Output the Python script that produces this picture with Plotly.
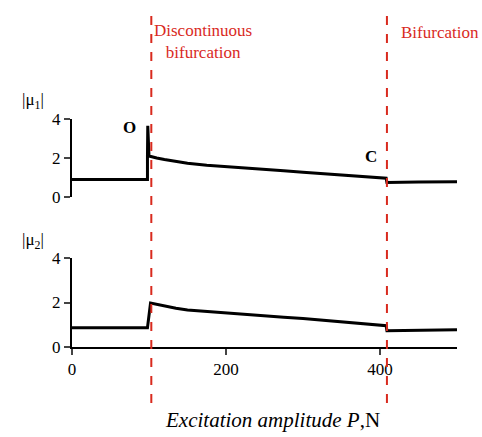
import plotly.graph_objects as go
from plotly.subplots import make_subplots

# Data
P1 = [0, 98, 98, 98.4, 100, 103, 110, 120, 135, 150, 175, 200, 225, 250, 275, 300, 325, 350, 375, 400, 408, 409, 420, 450, 500]
mu1 = [0.9, 0.9, 2.05, 3.65, 2.1, 2.08, 2.0, 1.92, 1.82, 1.73, 1.63, 1.55, 1.48, 1.41, 1.34, 1.27, 1.2, 1.13, 1.06, 0.99, 0.96, 0.74, 0.74, 0.77, 0.78]
P2 = [0, 98, 102, 110, 120, 135, 150, 175, 200, 225, 250, 275, 300, 325, 350, 375, 400, 408, 409, 420, 450, 500]
mu2 = [0.87, 0.87, 1.98, 1.92, 1.84, 1.74, 1.66, 1.59, 1.52, 1.46, 1.4, 1.34, 1.28, 1.21, 1.14, 1.07, 1.0, 0.96, 0.73, 0.74, 0.76, 0.78]
bif_lines = [103, 409]
x_ticks = [0, 200, 400]
y_ticks = [0, 2, 4]

W, H = 482, 437
L, R, T, B = 72, 25, 119, 90
plot_h = H - T - B
plot_w = W - L - R

def py(y):
    return (H - B - y) / plot_h

def px(x):
    return (x - L) / plot_w

fig = make_subplots(rows=2, cols=1, shared_xaxes=False)
fig.add_trace(go.Scatter(x=P1, y=mu1, mode="lines", line=dict(color="black", width=3)), row=1, col=1)
fig.add_trace(go.Scatter(x=P2, y=mu2, mode="lines", line=dict(color="black", width=3)), row=2, col=1)

font = "Liberation Serif"
red = "#d92a1e"

axis_common = dict(showline=True, linecolor="black", linewidth=2, ticks="outside", ticklen=6,
                   tickwidth=2, showgrid=False, zeroline=False,
                   tickfont=dict(family=font, size=17, color="black"))

fig.update_layout(
    width=W, height=H,
    margin=dict(l=L, r=R, t=T, b=B),
    paper_bgcolor="white", plot_bgcolor="white",
    showlegend=False,
    font=dict(family=font, size=16, color="black"),
    xaxis=dict(domain=[0, 1], range=[0, 500], visible=False, anchor="y"),
    yaxis=dict(domain=[py(197), 1], range=[0, 4], tickvals=y_ticks, anchor="x", **axis_common),
    xaxis2=dict(domain=[0, 1], range=[0, 500], tickvals=x_ticks, anchor="y2", **axis_common),
    yaxis2=dict(domain=[0, py(258)], range=[0, 4], tickvals=y_ticks, anchor="x2", **axis_common),
)

for xv in bif_lines:
    fig.add_shape(type="line", xref="x2", yref="paper", x0=xv, x1=xv, y0=py(403), y1=py(10),
                  line=dict(color=red, width=2, dash="dash"))

ann = [
    dict(text="|μ<sub>1</sub>|", x=px(33), y=py(101), size=17, color="black"),
    dict(text="|μ<sub>2</sub>|", x=px(33), y=py(241), size=17, color="black"),
    dict(text="<b>O</b>", x=px(129), y=py(127), size=17, color="black"),
    dict(text="<b>C</b>", x=px(371), y=py(156), size=17, color="black"),
    dict(text="Discontinuous<br>bifurcation", x=px(203), y=py(42), size=17, color=red),
    dict(text="Bifurcation", x=px(440), y=py(33), size=17, color=red),
    dict(text="<i>Excitation amplitude P</i>,N", x=px(272), y=py(420), size=21, color="black"),
]
for a in ann:
    fig.add_annotation(text=a["text"], x=a["x"], y=a["y"], xref="paper", yref="paper",
                       showarrow=False, xanchor="center", yanchor="middle",
                       font=dict(family=font, size=a["size"], color=a["color"]))

fig.write_html("out.html")
